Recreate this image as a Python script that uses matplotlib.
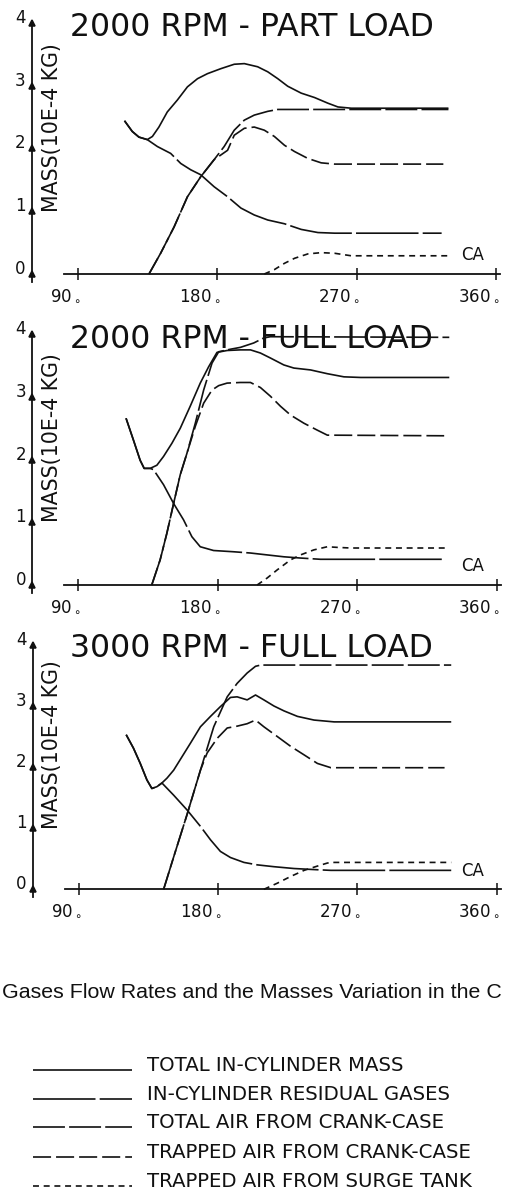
import matplotlib
matplotlib.use('Agg')
import matplotlib.pyplot as plt
from matplotlib.transforms import ScaledTranslation

plt.rcParams['lines.scale_dashes'] = False
plt.rcParams['font.family'] = ['DejaVu Sans']
plt.rcParams['mathtext.fontset'] = 'dejavusans'

W, H = 506, 1195

# ---------------- data ----------------
crank_ticks = [90, 180, 270, 360]
crank_labels = [r'90$_\circ$', r'180$_\circ$', r'270$_\circ$', r'360$_\circ$']
mass_ticks = [0, 1, 2, 3, 4]
mass_labels = ['0', '1', '2', '3', '4']

titles = ['2000 RPM - PART LOAD', '2000 RPM - FULL LOAD', '3000 RPM - FULL LOAD']
series_labels = ['TOTAL IN-CYLINDER MASS', 'IN-CYLINDER RESIDUAL GASES',
                 'TOTAL AIR FROM CRANK-CASE', 'TRAPPED AIR FROM CRANK-CASE',
                 'TRAPPED AIR FROM SURGE TANK']
ylabel = 'MASS(10E-4 KG)'
caption = 'Gases Flow Rates and the Masses Variation in the C'

# Panel 1 : 2000 RPM part load
p1_total_ca = [120, 125, 129.3, 134.7, 138, 142.2, 147.6, 154.1, 160.6, 167.1, 173.5, 182.2, 190.8,
               197.3, 205.9, 212.4, 218.9, 225.3, 234, 242.6, 251.2, 257.7, 266.3, 277, 329]
p1_total_m = [2.44, 2.27, 2.18, 2.14, 2.19, 2.34, 2.58, 2.77, 2.98, 3.11, 3.19, 3.27, 3.34,
              3.35, 3.30, 3.22, 3.11, 2.99, 2.88, 2.81, 2.72, 2.66, 2.64, 2.64, 2.64]
p1_resid_ca = [120, 125, 129.3, 134.7, 141.2, 149.8, 156.3, 162.7, 169.2, 177.8, 186.5, 195.1,
               203.7, 212.4, 223.2, 234, 244.8, 255.6, 324.6]
p1_resid_m = [2.44, 2.27, 2.18, 2.14, 2.03, 1.92, 1.76, 1.66, 1.58, 1.39, 1.23, 1.05,
              0.94, 0.86, 0.80, 0.71, 0.66, 0.65, 0.65]
p1_air_ca = [135.8, 143.3, 152, 160.6, 169.2, 177.8, 184.3, 190.8, 197.3, 203.7, 212.4, 218.9, 329]
p1_air_m = [0, 0.33, 0.75, 1.23, 1.55, 1.82, 2.03, 2.29, 2.45, 2.53, 2.59, 2.62, 2.62]
p1_trap_ca = [135.8, 143.3, 152, 160.6, 169.2, 177.8, 186.5, 190.8, 197.3, 203.7, 210.2, 216.7,
              223.2, 229.7, 238.3, 246.9, 255.6, 325.7]
p1_trap_m = [0, 0.33, 0.75, 1.23, 1.55, 1.82, 1.97, 2.21, 2.32, 2.34, 2.29, 2.19,
             2.05, 1.95, 1.84, 1.77, 1.75, 1.75]
p1_surge_ca = [210.2, 216.7, 223.2, 229.7, 238.3, 246.9, 255.6, 266.3, 329]
p1_surge_m = [0, 0.07, 0.17, 0.25, 0.32, 0.34, 0.33, 0.29, 0.29]

# Panel 2 : 2000 RPM full load
p2_total_ca = [120.8, 125.6, 129.9, 132.5, 136.4, 140.7, 145, 150.4, 155.8, 162.2, 168.7, 174.1,
               179.5, 186, 194.6, 201.1, 207.5, 214, 222.6, 229.1, 239.9, 250.7, 261.4, 272.2, 329.4]
p2_total_m = [2.66, 2.31, 1.99, 1.86, 1.86, 1.91, 2.05, 2.26, 2.50, 2.85, 3.22, 3.48,
              3.71, 3.74, 3.75, 3.75, 3.70, 3.62, 3.51, 3.46, 3.43, 3.37, 3.32, 3.31, 3.31]
p2_resid_ca = [120.8, 125.6, 129.9, 132.5, 136.4, 138.5, 145, 151.5, 157.9, 163.3, 168.7, 177.3,
               190.3, 201.1, 211.8, 222.6, 233.4, 246.3, 255, 326.1]
p2_resid_m = [2.66, 2.31, 1.99, 1.86, 1.86, 1.84, 1.60, 1.30, 1.04, 0.77, 0.61, 0.55,
              0.53, 0.51, 0.48, 0.45, 0.43, 0.41, 0.41, 0.41]
p2_air_ca = [137.4, 142.8, 147.1, 151.5, 155.8, 160.1, 165.5, 170.9, 176.3, 180.6, 188.1, 194.6,
             203.2, 209.7, 214, 329.4]
p2_air_m = [0, 0.40, 0.82, 1.30, 1.76, 2.10, 2.58, 3.11, 3.54, 3.72, 3.76, 3.79,
            3.86, 3.94, 3.96, 3.95]
p2_trap_ca = [137.4, 142.8, 147.1, 151.5, 155.8, 160.1, 165.5, 170.9, 176.3, 180.6, 186, 194.6,
              201.1, 207.5, 214, 220.5, 227, 235.6, 244.2, 250.7, 326.1]
p2_trap_m = [0, 0.40, 0.82, 1.30, 1.76, 2.10, 2.53, 2.90, 3.11, 3.18, 3.22, 3.23,
             3.23, 3.15, 3.01, 2.85, 2.71, 2.58, 2.47, 2.39, 2.38]
p2_surge_ca = [205.4, 211.8, 218.3, 226.9, 233.4, 242, 250.7, 257.1, 265.8, 329.4]
p2_surge_m = [0, 0.11, 0.24, 0.40, 0.48, 0.56, 0.61, 0.60, 0.59, 0.59]

# Panel 3 : 3000 RPM full load
p3_total_ca = [120.5, 125.2, 129.6, 133.9, 137.1, 140.4, 143.6, 146.9, 151.2, 156.6, 162, 168.5,
               175, 181.4, 187.9, 192.2, 198.7, 204.1, 209.5, 216, 222.5, 231.2, 241.9, 254.9, 330.6]
p3_total_m = [2.53, 2.31, 2.06, 1.79, 1.65, 1.68, 1.74, 1.82, 1.95, 2.17, 2.39, 2.66,
              2.83, 2.99, 3.14, 3.15, 3.10, 3.18, 3.10, 3.00, 2.92, 2.83, 2.77, 2.74, 2.74]
p3_resid_ca = [120.5, 125.2, 129.6, 133.9, 137.1, 140.4, 143.6, 151.2, 159.8, 168.5, 175, 181.4,
               187.9, 196.6, 205.2, 216, 229, 244.1, 252.8, 330.6]
p3_resid_m = [2.53, 2.31, 2.06, 1.79, 1.65, 1.68, 1.74, 1.54, 1.30, 1.03, 0.81, 0.62,
              0.52, 0.44, 0.40, 0.37, 0.34, 0.32, 0.31, 0.31]
p3_air_ca = [144.7, 151.2, 159.8, 168.5, 177.1, 185.8, 192.2, 198.7, 204.1, 207.4, 330.6]
p3_air_m = [0, 0.53, 1.22, 1.95, 2.66, 3.15, 3.37, 3.54, 3.65, 3.67, 3.67]
p3_trap_ca = [144.7, 151.2, 159.8, 168.5, 172.8, 179.3, 185.8, 192.2, 198.7, 204.1, 209.5, 218.2,
              226.8, 235.5, 244.1, 252.8, 326.3]
p3_trap_m = [0, 0.53, 1.22, 1.95, 2.23, 2.47, 2.64, 2.67, 2.71, 2.77, 2.66, 2.50,
             2.34, 2.20, 2.06, 1.99, 1.99]
p3_surge_ca = [209.5, 218.2, 226.8, 235.5, 244.1, 250.6, 255, 330.6]
p3_surge_m = [0, 0.10, 0.21, 0.31, 0.38, 0.43, 0.44, 0.44]

panels = [
    [(p1_total_ca, p1_total_m), (p1_resid_ca, p1_resid_m), (p1_air_ca, p1_air_m),
     (p1_trap_ca, p1_trap_m), (p1_surge_ca, p1_surge_m)],
    [(p2_total_ca, p2_total_m), (p2_resid_ca, p2_resid_m), (p2_air_ca, p2_air_m),
     (p2_trap_ca, p2_trap_m), (p2_surge_ca, p2_surge_m)],
    [(p3_total_ca, p3_total_m), (p3_resid_ca, p3_resid_m), (p3_air_ca, p3_air_m),
     (p3_trap_ca, p3_trap_m), (p3_surge_ca, p3_surge_m)],
]

# ---------------- style / layout ----------------
styles = ['-', (0, (45, 3)), (0, (23, 3)), (0, (13, 3.6)), (0, (4.3, 3.4))]
LW = 1.2
INK = '#111111'

# pixel geometry of each panel: x of 90deg, x of 360deg, y of 0, px per unit
geom = [(78.0, 496.5, 274.0, 62.8), (78.3, 496.7, 585.0, 62.7), (79.0, 496.7, 889.3, 61.1)]
title_base = [36, 348, 657]
ylabel_cy = [128, 438, 745]

fig = plt.figure(figsize=(W / 100, H / 100), dpi=100)

XL, XR, YB, YT = 50, 372, -0.5, 4.3
for i, (x90, x360, y0, unit) in enumerate(geom):
    k = (x360 - x90) / 270.0
    lp = x90 + (XL - 90) * k
    rp = x90 + (XR - 90) * k
    bp = y0 - YB * unit
    tp = y0 - YT * unit
    ax = fig.add_axes([lp / W, 1 - bp / H, (rp - lp) / W, (bp - tp) / H])
    ax.set_xlim(XL, XR)
    ax.set_ylim(YB, YT)
    ax.patch.set_visible(False)
    for s in ['top', 'right']:
        ax.spines[s].set_visible(False)
    ax.spines['left'].set_position(('data', 60.3))
    ax.spines['left'].set_bounds(-0.12, 4.0)
    ax.spines['bottom'].set_position(('data', 0))
    ax.spines['bottom'].set_bounds(81, 362.5)
    for s in ['left', 'bottom']:
        ax.spines[s].set_linewidth(1.3)
        ax.spines[s].set_color(INK)

    for (xs, ys), ls in zip(panels[i], styles):
        ax.plot(xs, ys, color=INK, lw=LW, linestyle=ls,
                solid_capstyle='butt', dash_capstyle='butt', clip_on=False)

    ax.set_xticks(crank_ticks, crank_labels)
    ax.set_yticks(mass_ticks, mass_labels)
    ax.tick_params(axis='x', direction='inout', length=9, width=1.1, pad=4,
                   labelsize=12, colors=INK)
    ax.tick_params(axis='y', direction='inout', length=5, width=1.1, pad=2,
                   labelsize=12, colors=INK)
    for t in ax.yaxis.get_major_ticks():
        t.tick1line.set_marker('^')
        t.tick1line.set_markersize(5)
        t.tick1line.set_markerfacecolor(INK)
    off = ScaledTranslation(3 / 100, 0, fig.dpi_scale_trans)
    for lbl in ax.get_xticklabels():
        lbl.set_horizontalalignment('right')
        lbl.set_transform(lbl.get_transform() + off)
    for lbl in ax.get_yticklabels():
        lbl.set_verticalalignment('baseline')

    ax.text(337, 0.30, 'CA', fontsize=12, va='center', ha='left', color=INK)

# overlay for titles, axis titles, caption and legend (pixel coordinates)
ov = fig.add_axes([0, 0, 1, 1])
ov.set_xlim(0, W)
ov.set_ylim(H, 0)
ov.axis('off')
ov.patch.set_visible(False)

for i in range(3):
    ov.text(70, title_base[i], titles[i], fontsize=22.7, ha='left', va='baseline', color=INK)
    ov.text(52, ylabel_cy[i], ylabel, fontsize=14.8, rotation=90, ha='center', va='center', color=INK)

ov.text(2, 998, caption, fontsize=15.4, family=['Liberation Sans', 'DejaVu Sans'],
        ha='left', va='baseline', color=INK, clip_on=True)

leg_base = [1071, 1100, 1128, 1158, 1187]
for lbl, ls, yb in zip(series_labels, styles, leg_base):
    ov.plot([33, 132], [yb - 1, yb - 1], color=INK, lw=LW, linestyle=ls,
            solid_capstyle='butt', dash_capstyle='butt')
    ov.text(147, yb, lbl, fontsize=14.2, family=['DejaVu Sans'],
            ha='left', va='baseline', color=INK)

fig.savefig('out.png', dpi=100)
